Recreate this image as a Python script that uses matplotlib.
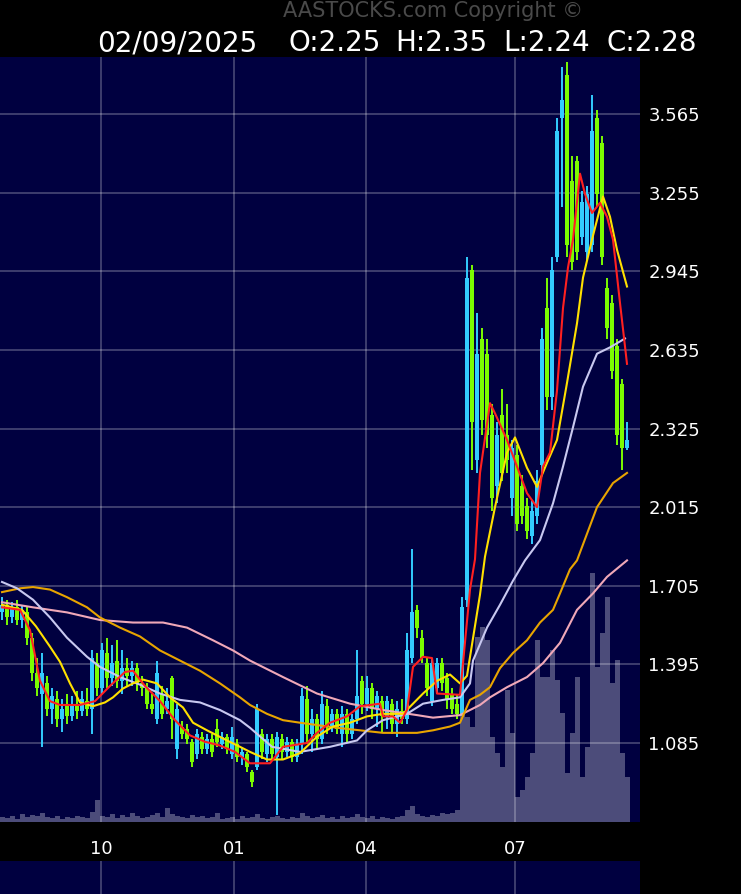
import matplotlib
matplotlib.use('Agg')
import matplotlib.pyplot as plt
import numpy as np

# ---- data (one candle per slot) ----
opens = [1.60, 1.63, 1.58, 1.62, 1.57, 1.60, 1.50, 1.36, 1.28, 1.32,
         1.22, 1.26, 1.18, 1.23, 1.19, 1.24, 1.21, 1.25, 1.22, 1.40,
         1.30, 1.44, 1.34, 1.41, 1.33, 1.38, 1.35, 1.38, 1.32, 1.30,
         1.24, 1.18, 1.28, 1.22, 1.34, 1.06, 1.15, 1.14, 1.09, 1.04,
         1.11, 1.06, 1.10, 1.14, 1.08, 1.11, 1.04, 1.08, 1.03, 1.04,
         0.97, 0.99, 1.12, 1.04, 1.10, 1.03, 1.10, 1.05, 1.09, 1.03,
         1.08, 1.26, 1.12, 1.18, 1.10, 1.23, 1.15, 1.20, 1.12, 1.20,
         1.12, 1.18, 1.33, 1.24, 1.30, 1.22, 1.25, 1.19, 1.24, 1.16,
         1.21, 1.18, 1.42, 1.61, 1.50, 1.40, 1.25, 1.30, 1.40, 1.34,
         1.28, 1.24, 1.20, 1.65, 2.95, 2.20, 2.68, 2.62, 2.38, 2.10,
         2.38, 2.30, 2.05, 2.22, 2.10, 2.02, 1.90, 1.98, 2.18, 2.80,
         2.45, 3.00, 3.55, 3.72, 3.30, 3.38, 3.08, 3.02, 3.05, 3.55,
         3.45, 2.88, 2.82, 2.65, 2.50, 2.25]
closes = [1.63, 1.58, 1.62, 1.57, 1.61, 1.50, 1.36, 1.30, 1.36, 1.22,
          1.27, 1.18, 1.22, 1.19, 1.24, 1.21, 1.26, 1.22, 1.42, 1.30,
          1.45, 1.34, 1.40, 1.33, 1.38, 1.35, 1.38, 1.32, 1.30, 1.24,
          1.22, 1.36, 1.20, 1.25, 1.18, 1.22, 1.12, 1.10, 1.01, 1.12,
          1.06, 1.10, 1.05, 1.09, 1.11, 1.06, 1.11, 1.03, 1.05, 0.99,
          0.93, 1.22, 1.05, 1.10, 1.04, 1.11, 1.05, 1.09, 1.03, 1.08,
          1.27, 1.12, 1.18, 1.10, 1.24, 1.15, 1.20, 1.14, 1.20, 1.12,
          1.18, 1.27, 1.24, 1.30, 1.22, 1.27, 1.19, 1.25, 1.16, 1.22,
          1.18, 1.45, 1.60, 1.54, 1.42, 1.30, 1.40, 1.40, 1.32, 1.26,
          1.22, 1.20, 1.62, 2.92, 2.35, 2.62, 2.36, 2.30, 2.05, 2.30,
          2.15, 2.20, 2.25, 1.95, 1.98, 1.92, 2.00, 2.12, 2.68, 2.45,
          2.95, 3.50, 3.62, 3.05, 2.98, 3.02, 3.22, 3.25, 3.50, 3.25,
          3.00, 2.72, 2.55, 2.30, 2.25, 2.28]
highs = [1.66, 1.65, 1.64, 1.65, 1.63, 1.62, 1.52, 1.42, 1.44, 1.35,
         1.30, 1.29, 1.26, 1.28, 1.27, 1.29, 1.29, 1.30, 1.45, 1.44,
         1.48, 1.50, 1.47, 1.49, 1.45, 1.42, 1.41, 1.40, 1.35, 1.32,
         1.28, 1.41, 1.31, 1.30, 1.35, 1.24, 1.17, 1.16, 1.10, 1.14,
         1.13, 1.12, 1.12, 1.18, 1.13, 1.12, 1.15, 1.10, 1.07, 1.05,
         0.98, 1.24, 1.14, 1.12, 1.12, 1.13, 1.12, 1.11, 1.10, 1.10,
         1.30, 1.31, 1.22, 1.20, 1.29, 1.26, 1.22, 1.22, 1.23, 1.22,
         1.20, 1.45, 1.35, 1.35, 1.32, 1.29, 1.27, 1.27, 1.26, 1.25,
         1.26, 1.52, 1.85, 1.63, 1.53, 1.42, 1.42, 1.42, 1.42, 1.36,
         1.30, 1.28, 1.66, 3.00, 2.97, 2.78, 2.72, 2.68, 2.42, 2.35,
         2.48, 2.42, 2.28, 2.26, 2.14, 2.05, 2.04, 2.16, 2.72, 2.92,
         3.00, 3.55, 3.75, 3.77, 3.40, 3.40, 3.26, 3.28, 3.64, 3.58,
         3.48, 2.92, 2.85, 2.68, 2.52, 2.35]
lows = [1.57, 1.55, 1.56, 1.55, 1.54, 1.47, 1.33, 1.27, 1.07, 1.19,
        1.16, 1.15, 1.13, 1.16, 1.17, 1.18, 1.19, 1.19, 1.12, 1.27,
        1.28, 1.30, 1.31, 1.30, 1.28, 1.31, 1.31, 1.29, 1.27, 1.22,
        1.20, 1.16, 1.18, 1.20, 1.10, 1.02, 1.10, 1.08, 0.99, 1.02,
        1.04, 1.04, 1.03, 1.07, 1.06, 1.04, 1.02, 1.01, 1.00, 0.97,
        0.91, 0.98, 1.02, 1.01, 1.02, 0.80, 1.02, 1.03, 1.01, 1.01,
        1.04, 1.08, 1.05, 1.06, 1.08, 1.12, 1.13, 1.12, 1.07, 1.09,
        1.10, 1.16, 1.20, 1.21, 1.18, 1.15, 1.13, 1.14, 1.12, 1.11,
        1.16, 1.16, 1.40, 1.50, 1.40, 1.27, 1.23, 1.28, 1.29, 1.22,
        1.20, 1.18, 1.19, 1.62, 2.16, 2.15, 2.30, 2.25, 2.00, 2.03,
        2.12, 2.15, 1.98, 1.92, 1.95, 1.89, 1.87, 1.95, 2.15, 2.40,
        2.40, 2.98, 3.20, 3.00, 2.95, 2.99, 3.05, 2.99, 3.02, 3.20,
        2.97, 2.68, 2.52, 2.26, 2.16, 2.24]
volumes = [0.5, 0.4, 0.6, 0.3, 0.8, 0.5, 0.7, 0.6, 0.9, 0.5,
           0.4, 0.6, 0.3, 0.5, 0.4, 0.6, 0.5, 0.4, 1.0, 2.2,
           0.6, 0.5, 0.8, 0.4, 0.7, 0.5, 0.9, 0.6, 0.4, 0.5,
           0.7, 0.9, 0.5, 1.4, 0.8, 0.6, 0.5, 0.4, 0.7, 0.5,
           0.6, 0.4, 0.5, 0.9, 0.3, 0.4, 0.5, 0.3, 0.6, 0.4,
           0.5, 0.8, 0.4, 0.3, 0.5, 0.6, 0.4, 0.3, 0.5, 0.4,
           0.9, 0.6, 0.4, 0.5, 0.7, 0.4, 0.5, 0.3, 0.6, 0.4,
           0.5, 0.8, 0.5, 0.4, 0.6, 0.3, 0.5, 0.4, 0.3, 0.5,
           0.6, 1.2, 1.6, 0.8, 0.6, 0.5, 0.7, 0.6, 0.9, 0.8,
           0.9, 1.2, 11.0, 10.5, 9.5, 18.5, 19.5, 18.2, 8.5, 6.9,
           5.5, 13.2, 8.9, 2.5, 3.2, 4.5, 6.9, 18.2, 14.5, 14.5,
           17.2, 14.2, 10.9, 4.9, 8.9, 14.5, 4.5, 7.5, 24.9, 15.5,
           18.9, 22.5, 13.9, 16.2, 6.9, 4.5]

# moving averages, sampled along the candle index
ma_red_x = [0, 3.6, 5.6, 7.6, 9.6, 11.6, 15.6, 18.6, 21.6, 24.6, 26.2, 28.6, 31.6, 34.6,
            37.6, 40.6, 43.6, 46.6, 49.6, 53.6, 56.2, 61, 63, 65.6, 69, 71.6, 75.6, 76.2,
            78.2, 79.6, 81, 82.2, 84.2, 86, 87, 91.6, 93.6, 94.6, 95.6, 97.6, 98.6, 101,
            103, 105, 107, 108.2, 109.6, 111, 112.2, 113.2, 114.2, 115.6, 116.6, 118,
            119.6, 121, 122.2, 123.6, 125]
ma_red = [1.62, 1.61, 1.53, 1.33, 1.25, 1.235, 1.235, 1.25, 1.31, 1.365, 1.37, 1.31, 1.25,
          1.175, 1.115, 1.09, 1.075, 1.05, 1.005, 1.005, 1.07, 1.085, 1.125, 1.165, 1.19,
          1.23, 1.24, 1.19, 1.19, 1.165, 1.215, 1.385, 1.425, 1.42, 1.28, 1.275, 1.69,
          1.81, 2.15, 2.425, 2.385, 2.28, 2.175, 2.07, 2.015, 2.175, 2.23, 2.475, 2.80,
          2.96, 3.07, 3.33, 3.25, 3.175, 3.215, 3.16, 3.07, 2.82, 2.58]
ma_yellow_x = [0, 4, 6.8, 9.6, 11.6, 13.6, 15.6, 18.2, 20.6, 22.2, 24.2, 26.2, 28.2, 31,
               33.6, 36.2, 38.2, 41, 45, 47.6, 49.6, 53, 56.2, 59.6, 63, 66.2, 69.6, 73,
               76.2, 80.2, 82.2, 84.2, 87, 89.6, 91.6, 93, 95.6, 96.6, 98.6, 101, 102.6,
               105, 107, 109, 111, 113, 115, 116.2, 118, 120.2, 121.6, 123, 125]
ma_yellow = [1.63, 1.61, 1.545, 1.465, 1.405, 1.32, 1.245, 1.23, 1.245, 1.265, 1.30, 1.32,
             1.335, 1.32, 1.265, 1.225, 1.165, 1.135, 1.095, 1.07, 1.05, 1.02, 1.02, 1.045,
             1.11, 1.15, 1.165, 1.19, 1.20, 1.20, 1.24, 1.28, 1.33, 1.355, 1.32, 1.35, 1.67,
             1.82, 2.015, 2.23, 2.29, 2.17, 2.095, 2.19, 2.28, 2.505, 2.74, 2.92, 3.07,
             3.24, 3.16, 3.03, 2.885]
ma_lav_x = [0, 3, 6.2, 9.6, 13, 17, 19.6, 23.6, 27.6, 31.6, 35.6, 39.6, 43.6, 47.6, 49.6,
            54, 59.6, 65.6, 71, 73, 76.2, 81, 84.2, 88.2, 91.6, 93.6, 94.2, 97, 99.6,
            102.2, 104.6, 107.6, 110.2, 112.2, 114.2, 116.2, 119, 121.6, 124.6]
ma_lav = [1.72, 1.695, 1.65, 1.58, 1.50, 1.425, 1.385, 1.345, 1.315, 1.28, 1.255, 1.245,
          1.215, 1.175, 1.145, 1.07, 1.05, 1.07, 1.095, 1.135, 1.175, 1.20, 1.24, 1.255,
          1.265, 1.32, 1.41, 1.54, 1.63, 1.725, 1.805, 1.885, 2.03, 2.175, 2.33, 2.49,
          2.62, 2.645, 2.68]
ma_orange_x = [0, 3.6, 6.2, 9.6, 13, 17, 19.6, 23.6, 27.6, 31.6, 35.6, 39.6, 43.6, 47.6,
               49.6, 53, 56.2, 59.6, 67, 71.6, 76.2, 83, 86.2, 89.6, 91.6, 93.6, 95.6, 97.6,
               99.6, 102.2, 105, 107.6, 110.2, 111.6, 113.6, 115, 119, 122.2, 125]
ma_orange = [1.68, 1.695, 1.70, 1.69, 1.66, 1.62, 1.58, 1.54, 1.505, 1.45, 1.41, 1.37,
             1.32, 1.265, 1.235, 1.20, 1.175, 1.165, 1.145, 1.135, 1.125, 1.125, 1.135,
             1.15, 1.165, 1.255, 1.275, 1.305, 1.38, 1.44, 1.49, 1.56, 1.61, 1.675, 1.77,
             1.805, 2.015, 2.11, 2.15]
ma_pink_x = [0, 6.2, 13, 19.6, 26.2, 32.2, 37, 42.2, 46.2, 49.6, 56.2, 63, 69.6, 76.2, 83,
             86.2, 91.6, 95.6, 97.6, 101, 105, 108.2, 111.6, 115, 118.2, 121, 125]
ma_pink = [1.64, 1.62, 1.60, 1.57, 1.56, 1.56, 1.54, 1.49, 1.45, 1.41, 1.345, 1.28, 1.24,
           1.215, 1.195, 1.185, 1.195, 1.235, 1.265, 1.305, 1.345, 1.40, 1.48, 1.61, 1.675,
           1.74, 1.805]

price_ticks = [1.085, 1.395, 1.705, 2.015, 2.325, 2.635, 2.945, 3.255, 3.565]
month_pos = [19.8, 46.4, 72.8, 102.6]
month_labels = ['10', '01', '04', '07']

# ---- styling ----
W, H = 741, 894
NAVY = '#000040'
UP_C, DOWN_C = '#33ccff', '#7cfc00'

def px_rect(x0, y0, x1, y1):
    return [x0 / W, 1 - y1 / H, (x1 - x0) / W, (y1 - y0) / H]

fig = plt.figure(figsize=(W / 100, H / 100), dpi=100, facecolor='black')
idx = np.arange(len(closes))
xlim = (-0.4, 127.6)
ylim = (0.7735, 3.79)

# volume layer underneath
axv = fig.add_axes(px_rect(0, 57, 640, 822), facecolor=NAVY)
axv.bar(idx, volumes, width=1.0, color='#4c4c7a', linewidth=0)
axv.set_xlim(*xlim)
axv.set_ylim(0, 76.5)
axv.set_xticks([])
axv.set_yticks([])
for s in axv.spines.values():
    s.set_visible(False)

# price layer
ax = fig.add_axes(px_rect(0, 57, 640, 822), facecolor='none')
ax.set_xlim(*xlim)
ax.set_ylim(*ylim)
ax.set_axisbelow(True)
ax.grid(True, color='white', alpha=0.26, lw=1.3)

o = np.array(opens); c = np.array(closes)
colors = [UP_C if cc >= oo else DOWN_C for oo, cc in zip(o, c)]
ax.vlines(idx, lows, highs, colors=colors, lw=1.4, zorder=3)
body = np.maximum(np.abs(c - o), 0.01)
ax.bar(idx, body, bottom=np.minimum(o, c), width=0.95, color=colors, linewidth=0, zorder=4)

ax.plot(ma_pink_x, ma_pink, color='#f0a8b8', lw=1.5, zorder=5)
ax.plot(ma_orange_x, ma_orange, color='#e8a400', lw=1.5, zorder=5)
ax.plot(ma_lav_x, ma_lav, color='#c8c8f0', lw=1.5, zorder=5)
ax.plot(ma_yellow_x, ma_yellow, color='#ffe000', lw=1.5, zorder=6)
ax.plot(ma_red_x, ma_red, color='#ff2020', lw=1.5, zorder=7)

ax.yaxis.tick_right()
ax.set_yticks(price_ticks)
ax.set_yticklabels(['%.3f' % v for v in price_ticks])
ax.tick_params(axis='y', length=0, colors='white', labelsize=13, pad=6)
ax.set_xticks(month_pos)
ax.set_xticklabels(month_labels)
ax.tick_params(axis='x', length=0, colors='white', labelsize=13, pad=13)
for s in ax.spines.values():
    s.set_visible(False)

# lower panel (next indicator, mostly cut off)
axl = fig.add_axes(px_rect(0, 861, 640, 894), facecolor=NAVY)
axl.set_xlim(*xlim)
axl.set_xticks(month_pos)
axl.set_yticks([])
axl.tick_params(axis='x', length=0, labelbottom=False)
axl.grid(True, axis='x', color='white', alpha=0.26, lw=1.3)
for s in axl.spines.values():
    s.set_visible(False)

# header
fig.text(283 / W, 1 - 17 / H, 'AASTOCKS.com Copyright ©', color='#4a4a4a', fontsize=15,
         va='baseline', ha='left')
header = [(97, '02/09/2025'), (289, 'O:2.25'), (395, 'H:2.35'), (503, 'L:2.24'), (607, 'C:2.28')]
for x, t in header:
    fig.text(x / W, 1 - 43 / H, t, color='white', fontsize=20, va='center', ha='left')

fig.savefig('out.png', dpi=100, facecolor='black')
